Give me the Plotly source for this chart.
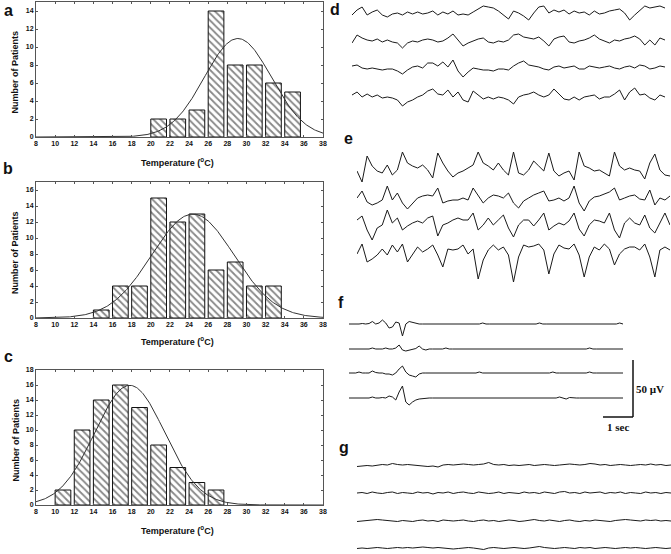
import numpy as np
import plotly.graph_objects as go

W, H = 671, 554


def px(x):
    return x / W


def py(y):
    return 1 - y / H


# ---------------- histogram data (a, b, c) ----------------
temp_ticks = list(range(8, 40, 2))
bins_a = [20, 22, 24, 26, 28, 30, 32, 34]
counts_a = [2, 2, 3, 14, 8, 8, 6, 5]
bins_b = [14, 16, 18, 20, 22, 24, 26, 28, 30, 32]
counts_b = [1, 4, 4, 15, 12, 13, 6, 7, 4, 4]
bins_c = [10, 12, 14, 16, 18, 20, 22, 24, 26]
counts_c = [2, 10, 14, 16, 13, 8, 5, 3, 2]
fit_mean = {"a": 29.1, "b": 24.4, "c": 17.8}
fit_sd = {"a": 3.5, "b": 4.3, "c": 3.65}
y_max = {"a": 15, "b": 17, "c": 18}
y_ticks = {"a": list(range(0, 15, 2)), "b": list(range(0, 17, 2)), "c": list(range(0, 19, 2))}
BIN_W = 2

# ---------------- EEG traces (amplitude, up = positive) ----------------
d1 = [-2, 3, 6, -2, 1, 3, -2, -4, -1, 0, -2, 1, -1, 1, -1, 0, 2, -2, 1, -1, 2, -2, -1, -2, 1, 4, 7, 6, 5, 2,
      -2, -6, 2, 0, -3, -7, 0, 6, 7, 0, 3, 1, 3, -1, 2, 0, 1, -2, 2, -1, 0, 2, 3, 4, 0, -7, -2, 3, 7, 5,
      6, 7, 5]
d2 = [-3, 5, 2, 0, -1, 1, -2, 0, -2, -3, -8, -3, -1, -2, 0, 1, 0, -2, -1, 2, 6, 0, -6, -3, -1, 1, 2, -2, -3, -1,
      -2, 0, 5, 6, 3, 2, 1, 3, -1, -6, 1, 3, 4, -2, -3, -1, 0, 2, 5, 1, -1, -3, 0, -1, 1, 2, 4, 1, -5, 0,
      -5, 2, 0]
d3 = [2, 3, 0, -1, 0, -1, -2, -1, -1, -3, -6, -2, 1, 2, 0, 5, 5, 2, 6, 1, 8, -3, -9, -4, 0, -1, -2, -2, -3, -1,
      -1, -2, 2, 5, 7, 3, 2, 1, -1, -2, 1, 2, 0, 1, 2, -1, -1, 2, 1, 0, 1, 2, 0, -1, 1, 2, 0, 3, 2, -1,
      0, 2, 1]
d4 = [2, 5, 0, 3, 0, 2, -1, 0, -1, -3, -9, -5, -3, 0, 2, 6, 8, 3, 2, 7, 0, 5, -3, -5, 6, 2, -2, 0, -2, 0,
      -1, -3, -7, 0, 2, 3, 5, 2, 0, 2, 8, 3, -2, -3, 0, -3, 0, 1, 2, -2, 0, 0, 3, 7, -3, 5, 9, 2, 3, -1,
      -3, 2, 0]
d_base = [13, 40, 68, 97]

e1 = [2, -9, 17, 7, 2, 0, 8, -2, 3, 21, 10, 7, 5, 8, 3, -5, 20, 10, 2, -4, 0, 2, 5, 8, 21, 10, 7, 3, 10, 3,
      -2, 21, 0, -2, 3, 12, 7, 2, 20, 2, -3, 0, 2, -7, 21, 7, 5, 2, 3, 0, -3, 21, 7, 3, 5, 3, 2, -6, 10, 19,
      3, -2, -3]
e2 = [0, 7, -4, -7, -5, -2, 12, -2, 5, -5, -11, -5, 0, 2, 3, 2, 10, -5, -3, -2, -2, 0, -2, 10, 2, -5, 0, 3, 2, 0,
      5, -5, -10, -3, 0, 3, 5, 7, -3, -2, 0, -3, 0, 12, -5, -13, -3, 1, 2, 4, 6, 10, -2, 0, 2, 3, -1, -2, 8, -7,
      0, -2, 2]
e3 = [3, 7, -7, -17, -5, -2, 13, 0, 5, -7, -3, 0, 2, 0, 5, 7, -13, -2, 0, 3, 5, 3, 3, 10, -7, -2, 5, -2, 3, 8,
      -5, -14, -2, 3, 3, -3, 3, 10, -7, -3, 0, -2, 2, 10, -6, -13, -2, 3, 2, 0, 10, -7, -15, 0, 5, 0, -2, 8, -5, -10,
      0, 10, -2]
e4 = [-2, 8, -10, -7, -3, 3, -3, 7, 0, 8, -10, -2, 5, 0, 3, 7, -3, -15, 3, 2, 3, 7, -2, 3, -27, -8, 2, 7, 2, 5,
      -3, -30, -5, 7, 5, 6, 8, 2, -22, -2, 7, 4, 3, 8, -3, -25, -5, 5, 2, 8, 3, -13, -2, 3, 5, 5, 2, 8, -5, -25,
      2, 5, 2]
e_base = [173, 198, 223, 252]

f1 = [0, 0, -0.5, 0, 0.5, 0, 0.5, 2.5, 0, 1, 4, 1, -4, -3, 2, 1, -12, 0, 2.5, 1.5, 0.5, 0,
      0, 0, 0, -0.5, 0, 0, 0, 0, 0, 0, 0, 0, 0, 0, 0, 0, 0, 0, 1, 0, 0, 0, 0, 0, 0, -0.5, 0, 0,
      0, 0, 0, 0, 0, 0, 0, 1, 0, 0, 0, 0, 0, 0, 0, 0, 0, 0, 0, 0, 0, 0, 0, 0, 0, 0, 0, 0, 0, 0,
      0, 1, 0]
f2 = [0, 0, 0, 0, 0, 0, 0, 1, 0, 0, 0, 1, 0, 0, 1, 4, -1, -2, -1, 0, 0.5, 3, 0, -1, 0,
      0, 0, 0, 0, 1, 0, 0, 0, 0, 0, 0, 0, 0, 0, 0, 0, 0, 0, 0, 0, 0, 0, 0, 0, 0, 0, 0, 0, 0, 0,
      0, 0, 0, 0, 0, 0, 0, 0, 0, 0, 0, 0, 0, 0, 0, 0, 0, 1, 0, 0, 0, 0, 0, 0, 0, 0, 0.5, 0]
f3 = [0, 0, 0, 1, 0, 0, 0, 2, 0.5, 0, 0, -1, -1, -2, 0, 4, 7, 1, -2, -3, -4, -1, 0,
      0, 0, 0, 0, 0, 0, 0, 0, 0, 0, 0, 0, 0, 0, 0, 0, 1, 0, 0, 0, 0, 0, 0, 0, 0, 0, 0, 0, 0, 0,
      0, 0, 0, 0, 0, 0, 0, 0, 1, 0, 0, 0, 0, 0, 0, 0, 0, 0, 0, 1, 0, 0, 0, 0, 0, 0, 0, 0, 0, 0]
f4 = [0, 0, 0, 0, 0, 0, 0, 1, 0, 0, 0.5, 0, 2, 1, -2, 6, 12, -4, -7, -4, -2, -1, -0.5,
      0, 0, 0, 0, 0, 0, 0, 0, 0, 0, 0, 0, 0, 0, 0, 0, 0, 0, 0, 0, 0, 0, 0, 0, 0, 0, 0, 0, 0, 0,
      0, 0, 0, 0, 0, 0, 0, 0, 0, 0, 1, 0, -1, 0.5, 0, 0, 0, 0, 0, 0, 0, 0, 0, 0, 0, 0, 0, 0, 0, 0]
f_base = [324, 349, 373, 398]

g1 = [-1.5, -1, -0.5, -1, 0, 0.5, 0, 1.5, 0.5, 0, 0.5, 0, -0.5, -1, -1.5, -1, -2, 0, 0.5, 0,
      0.5, 1, 0.5, 0, 0.5, 1, 2.5, 0.5, 0, 0.5, -0.5, 0, -0.5, 0, 0.5, -0.5, 0, 0.5, 0, -0.5,
      0, 0.5, 1, 0.5, 0, 0.5, 1.5, 1, 0, 0.5, -0.5, 0, 0.5, 0, -0.5, 0, 0.5, 0, 1, 0, 0.5, -0.5, 0]
g2 = [0, 0.5, -0.5, 1, 0, -0.5, 0.5, 1, -0.5, 0.5, 0, -0.5, 1, 0, 0.5, -1, 0.5, 0, 1, -0.5,
      0.5, 1, 0, -0.5, 1, 0.5, -0.5, 0, 1, -0.5, 0.5, 0, -0.5, 1, 0, 0.5, -0.5, 1, 0.5, -0.5,
      1, 1.5, 0, 0.5, -0.5, 1, 0, 0.5, 1, -0.5, 0.5, 0, 1, -0.5, 0.5, 0, -0.5, 1, 0, 0.5, -0.5, 0.5, 0]
g3 = [-0.5, 0, 0.5, 1, 1.5, 1, 0.5, 0, -0.5, 0.5, 0, -0.5, 0.5, 1, 0, 0.5, -0.5, 1, 0.5, 0,
      0.5, 1, 0, -0.5, 0.5, 1, 0, 0.5, -0.5, 0, 1, 0.5, -0.5, 0, 1, 1.5, 0.5, 0, 1, 0.5,
      -0.5, 0.5, 1, 0, -0.5, 0.5, 0, 1, 0.5, 0, -0.5, 0.5, 1, 1.5, 1, 0.5, 0, 1, 0.5, 1, 0, 0.5, 0]
g4 = [-0.5, 0, -0.5, 0, 0.5, 0, -0.5, 0, 0.5, 0, 0.5, 0, 0.5, 1, 0.5, 0, 0.5, 0, -0.5, -1,
      -0.5, 0, 0.5, 0, -0.5, -1.5, 0, 0.5, 0, -0.5, 0, 0.5, 0, -0.5, 0, 0.5, 1.5, 0.5, 0, -0.5,
      0, 0.5, 0, -0.5, 0.5, 0, 0.5, -0.5, 0, 0.5, 0, -0.5, 0, 0.5, 0, 0.5, 0, -0.5, 0, 0.5, 0, -0.5, 0]
g_base = [465, 493, 521, 548]

# ---------------- layout geometry (pixels) ----------------
hist_boxes = {"a": (36, 323, 2, 137), "b": (36, 323, 182, 318), "c": (36, 323, 370, 505)}
hist_title_y = {"a": 162, "b": 341, "c": 530}
eeg_panels = {
    "d": dict(x0=352, x1=665, top=0, bottom=112, base=d_base, data=[d1, d2, d3, d4]),
    "e": dict(x0=357, x1=670, top=128, bottom=292, base=e_base, data=[e1, e2, e3, e4]),
    "f": dict(x0=349, x1=623, top=308, bottom=412, base=f_base, data=[f1, f2, f3, f4]),
    "g": dict(x0=357, x1=671, top=455, bottom=554, base=g_base, data=[g1, g2, g3, g4]),
}
letters = {"a": (8, 10), "b": (8, 168), "c": (8, 356), "d": (335, 9), "e": (348, 138),
           "f": (341, 302), "g": (344, 448)}

fig = go.Figure()
layout = dict(width=W, height=H, margin=dict(l=0, r=0, t=0, b=0, pad=0, autoexpand=False),
              paper_bgcolor="white", plot_bgcolor="white", showlegend=False)
annotations = []
tickfont = dict(family="Liberation Sans, Arial", size=7, color="#111", weight="bold")
hist_data = {"a": (bins_a, counts_a), "b": (bins_b, counts_b), "c": (bins_c, counts_c)}


def note(text, x, y, size, family="Liberation Sans, Arial", angle=0):
    return dict(text=text, x=px(x), y=py(y), xref="paper", yref="paper", showarrow=False,
                xanchor="center", yanchor="middle", textangle=angle,
                font=dict(family=family, size=size, color="#111"))


for i, key in enumerate(["a", "b", "c"]):
    n = i + 1
    xs = "x" if n == 1 else f"x{n}"
    ys = "y" if n == 1 else f"y{n}"
    bins, counts = hist_data[key]
    bar_w = 0.82 * BIN_W
    fig.add_trace(go.Bar(
        x=[b + bar_w / 2 for b in bins], y=counts, width=bar_w, xaxis=xs, yaxis=ys,
        marker=dict(color="white", line=dict(color="#111", width=1),
                    pattern=dict(shape="\\", fgcolor="#111", bgcolor="white", size=5, solidity=0.36)),
    ))
    total = sum(counts)
    m, s = fit_mean[key], fit_sd[key]
    xc = np.linspace(8, 38, 301)
    yc = total * BIN_W / (s * np.sqrt(2 * np.pi)) * np.exp(-(xc - m) ** 2 / (2 * s ** 2))
    fig.add_trace(go.Scatter(x=xc, y=yc, mode="lines", line=dict(color="#333", width=1),
                             xaxis=xs, yaxis=ys, hoverinfo="skip"))
    x0, x1, t0, b0 = hist_boxes[key]
    axstyle = dict(showline=True, linecolor="#555", linewidth=1, mirror="ticks", ticks="inside",
                   ticklen=2, tickcolor="#555", showgrid=False, zeroline=False, tickfont=tickfont,
                   automargin=False)
    layout["xaxis" if n == 1 else f"xaxis{n}"] = dict(
        domain=[px(x0), px(x1)], range=[8, 38], tickvals=temp_ticks, anchor=ys, **axstyle)
    layout["yaxis" if n == 1 else f"yaxis{n}"] = dict(
        domain=[py(b0), py(t0)], range=[0, y_max[key]], tickvals=y_ticks[key], anchor=xs, **axstyle)
    annotations.append(note("<b>Number of Patients</b>", 15, (t0 + b0) / 2 + 3, 9, angle=-90))
    annotations.append(note("<b>Temperature (<sup>o</sup>C)</b>", 177, hist_title_y[key], 9))

for j, (key, p) in enumerate(eeg_panels.items()):
    n = 4 + j
    xs, ys = f"x{n}", f"y{n}"
    nmax = max(len(v) for v in p["data"])
    for base, vals in zip(p["base"], p["data"]):
        fig.add_trace(go.Scatter(x=np.arange(len(vals)), y=np.array(vals, dtype=float) - (base - p["top"]),
                                 mode="lines", line=dict(color="#1a1a1a", width=1),
                                 xaxis=xs, yaxis=ys, hoverinfo="skip"))
    layout[f"xaxis{n}"] = dict(domain=[px(p["x0"]), px(p["x1"])], range=[0, nmax - 1], visible=False,
                               anchor=ys, automargin=False)
    layout[f"yaxis{n}"] = dict(domain=[py(p["bottom"]), py(p["top"])],
                               range=[-(p["bottom"] - p["top"]), 0], visible=False, anchor=xs,
                               automargin=False)

for k, (lx, ly) in letters.items():
    annotations.append(note(f"<b>{k}</b>", lx, ly, 16))

# scale bar (50 µV, 1 sec)
bar_x, bar_top, bar_bot, bar_left = 633, 360, 417, 603
shapes = [
    dict(type="line", xref="paper", yref="paper", x0=px(bar_x), x1=px(bar_x), y0=py(bar_top), y1=py(bar_bot),
         line=dict(color="#111", width=1.5)),
    dict(type="line", xref="paper", yref="paper", x0=px(bar_left), x1=px(bar_x), y0=py(bar_bot), y1=py(bar_bot),
         line=dict(color="#111", width=1.5)),
]
annotations.append(note("<b>50 µV</b>", 650, 389, 11, family="Liberation Serif, Times New Roman"))
annotations.append(note("<b>1 sec</b>", 618, 427, 11, family="Liberation Serif, Times New Roman"))

layout["annotations"] = annotations
layout["shapes"] = shapes
fig.update_layout(**layout)
fig.write_html("out.html", config={"displayModeBar": False},
               post_script="document.body.style.margin='0';document.body.style.overflow='hidden';")
